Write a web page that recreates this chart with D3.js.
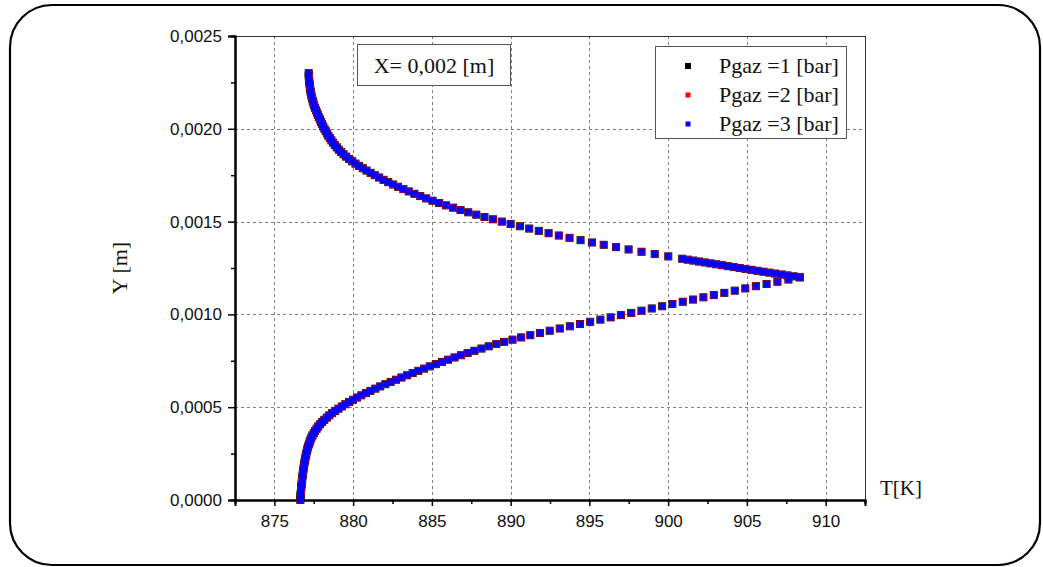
<!DOCTYPE html>
<html><head><meta charset="utf-8">
<script src="https://cdn.jsdelivr.net/npm/d3@7"></script>
<style>html,body{margin:0;padding:0;background:#fff;} svg{display:block;}</style>
</head><body><svg id="chart" width="1043" height="567"></svg>
<script>
// ---- tick values / labels ----
const xTicks = [875, 880, 885, 890, 895, 900, 905, 910];
const xMinorTicks = [872.5, 877.5, 882.5, 887.5, 892.5, 897.5, 902.5, 907.5, 912.5];
const yTicks = [0, 0.0005, 0.0010, 0.0015, 0.0020, 0.0025];
const yMinorTicks = [0.00025, 0.00075, 0.00125, 0.00175, 0.00225];
const xTitle = "T[K]";
const yTitle = "Y [m]";
const annotation = "X= 0,002 [m]";
const seriesNames = ["Pgaz =1 [bar]", "Pgaz =2 [bar]", "Pgaz =3 [bar]"];
const seriesColors = ["#000000", "#ff0000", "#0000ff"];

// ---- data: lower branch (Y from 0 to the tip) ----
const yLower = [0e-6,12e-6,24e-6,36e-6,48e-6,60e-6,72e-6,84e-6,96e-6,108e-6,
120e-6,132e-6,144e-6,156e-6,168e-6,180e-6,192e-6,204e-6,216e-6,228e-6,
240e-6,252e-6,264e-6,276e-6,288e-6,300e-6,312e-6,324e-6,336e-6,348e-6,
360e-6,372e-6,384e-6,396e-6,408e-6,420e-6,432e-6,444e-6,456e-6,468e-6,
480e-6,492e-6,504e-6,516e-6,528e-6,540e-6,552e-6,564e-6,576e-6,588e-6,
600e-6,612e-6,624e-6,636e-6,648e-6,660e-6,672e-6,684e-6,696e-6,708e-6,
720e-6,732e-6,744e-6,756e-6,768e-6,780e-6,792e-6,804e-6,816e-6,828e-6,
840e-6,852e-6,864e-6,876e-6,888e-6,900e-6,912e-6,924e-6,936e-6,948e-6,
960e-6,972e-6,984e-6,996e-6,1008e-6,1020e-6,1032e-6,1044e-6,1056e-6,1068e-6,
1080e-6,1092e-6,1104e-6,1116e-6,1128e-6,1140e-6,1152e-6,1164e-6,1176e-6,1188e-6,
1200e-6];
const tLower = [876.65,876.66,876.66,876.67,876.69,876.70,876.71,876.73,876.74,876.76,
876.77,876.79,876.81,876.83,876.85,876.87,876.89,876.92,876.94,876.97,
877.00,877.03,877.07,877.10,877.14,877.19,877.24,877.29,877.35,877.42,
877.50,877.58,877.68,877.78,877.90,878.03,878.17,878.33,878.49,878.67,
878.86,879.07,879.28,879.51,879.74,879.99,880.25,880.52,880.81,881.10,
881.41,881.72,882.05,882.38,882.72,883.07,883.43,883.78,884.14,884.50,
884.87,885.25,885.64,886.03,886.44,886.85,887.27,887.70,888.15,888.61,
889.09,889.59,890.12,890.67,891.25,891.86,892.48,893.12,893.76,894.40,
895.05,895.70,896.35,897.00,897.66,898.31,898.96,899.62,900.27,900.93,
901.58,902.24,902.90,903.57,904.23,904.90,905.57,906.25,906.94,907.64,
908.36];

// ---- data: upper branch (from the tip up to the top) ----
const yUpper = [1200e-6,1205e-6,1210e-6,1215e-6,1220e-6,1225e-6,1230e-6,1235e-6,1240e-6,1245e-6,
1250e-6,1255e-6,1260e-6,1265e-6,1270e-6,1275e-6,1280e-6,1285e-6,1290e-6,1295e-6,
1300e-6,1312.5e-6,1325e-6,1337.5e-6,1350e-6,1362.5e-6,1375e-6,1387.5e-6,
1400e-6,1412.5e-6,1425e-6,1437.5e-6,1450e-6,1462.5e-6,1475e-6,1487.5e-6,
1500e-6,1512.5e-6,1525e-6,1537.5e-6,1550e-6,1562.5e-6,1575e-6,1587.5e-6,
1600e-6,1612.5e-6,1625e-6,1637.5e-6,1650e-6,1662.5e-6,1675e-6,1687.5e-6,
1700e-6,1712.5e-6,1725e-6,1737.5e-6,1750e-6,1762.5e-6,1775e-6,1787.5e-6,
1800e-6,1812.5e-6,1825e-6,1837.5e-6,1850e-6,1862.5e-6,1875e-6,1887.5e-6,
1900e-6,1912.5e-6,1925e-6,1937.5e-6,1950e-6,1962.5e-6,1975e-6,1987.5e-6,
2000e-6,2012.5e-6,2025e-6,2037.5e-6,2050e-6,2062.5e-6,2075e-6,2087.5e-6,
2100e-6,2112.5e-6,2125e-6,2137.5e-6,2150e-6,2162.5e-6,2175e-6,2187.5e-6,
2200e-6,2212.5e-6,2225e-6,2237.5e-6,2250e-6,2262.5e-6,2275e-6,2287.5e-6,
2300e-6];
const tUpper = [908.36,907.97,907.58,907.20,906.81,906.43,906.05,905.67,905.29,904.91,
904.54,904.16,903.79,903.42,903.05,902.69,902.32,901.96,901.60,901.24,
900.89,900.01,899.15,898.31,897.49,896.69,895.91,895.16,
894.44,893.74,893.06,892.41,891.79,891.18,890.59,890.00,
889.44,888.88,888.34,887.82,887.31,886.82,886.35,885.89,
885.46,885.04,884.64,884.26,883.89,883.53,883.19,882.85,
882.54,882.23,881.93,881.65,881.37,881.11,880.85,880.61,
880.37,880.15,879.94,879.74,879.56,879.39,879.24,879.09,
878.96,878.84,878.73,878.62,878.52,878.43,878.34,878.26,
878.18,878.10,878.03,877.96,877.89,877.82,877.76,877.70,
877.64,877.58,877.53,877.48,877.44,877.40,877.36,877.33,
877.30,877.28,877.26,877.24,877.22,877.21,877.19,877.18,
877.18];

// The three pressure series coincide on the picture: same readings for each.
const seriesY = [yLower.concat(yUpper), yLower.concat(yUpper), yLower.concat(yUpper)];
const seriesT = [tLower.concat(tUpper), tLower.concat(tUpper), tLower.concat(tUpper)];

// ---- drawing ----
const svg = d3.select("#chart");
const W = 1043, H = 567;
const plot = {left: 235, right: 865, top: 36, bottom: 500};
const x = d3.scaleLinear().domain([872.5, 912.5]).range([plot.left, plot.right]);
const y = d3.scaleLinear().domain([0, 0.0025]).range([plot.bottom, plot.top]);

svg.append("rect").attr("width", W).attr("height", H).attr("fill", "#fff");

// outer rounded frame
svg.append("rect").attr("x", 10).attr("y", 5).attr("width", 1030).attr("height", 560)
  .attr("rx", 42).attr("ry", 42).attr("fill", "none").attr("stroke", "#000").attr("stroke-width", 2.2);

// grid
const grid = svg.append("g").attr("stroke", "#808080").attr("stroke-width", 1).attr("stroke-dasharray", "3,3");
xTicks.forEach(v => grid.append("line").attr("x1", Math.round(x(v)) + 0.5).attr("x2", Math.round(x(v)) + 0.5)
  .attr("y1", plot.top).attr("y2", plot.bottom));
yTicks.filter(v => v > 0 && v < 0.0025).forEach(v => grid.append("line").attr("y1", Math.round(y(v)) + 0.5)
  .attr("y2", Math.round(y(v)) + 0.5).attr("x1", plot.left).attr("x2", plot.right));

// top & right border
svg.append("line").attr("x1", plot.left).attr("x2", plot.right).attr("y1", plot.top + 0.5).attr("y2", plot.top + 0.5)
  .attr("stroke", "#333").attr("stroke-width", 1);
svg.append("line").attr("x1", plot.right + 0.5).attr("x2", plot.right + 0.5).attr("y1", plot.top).attr("y2", plot.bottom)
  .attr("stroke", "#333").attr("stroke-width", 1);

// axes
const fmtY = v => d3.format(".4f")(v).replace(".", ",");
const axisFont = "'Liberation Sans', Arial, sans-serif";
const gx = svg.append("g").attr("transform", `translate(0,${plot.bottom})`)
  .call(d3.axisBottom(x).tickValues(xTicks).tickSize(6).tickPadding(9).tickFormat(d3.format("d")));
const gxm = svg.append("g").attr("transform", `translate(0,${plot.bottom})`)
  .call(d3.axisBottom(x).tickValues(xMinorTicks).tickSize(4).tickFormat(""));
const gy = svg.append("g").attr("transform", `translate(${plot.left},0)`)
  .call(d3.axisLeft(y).tickValues(yTicks).tickSize(7).tickPadding(6).tickFormat(fmtY));
const gym = svg.append("g").attr("transform", `translate(${plot.left},0)`)
  .call(d3.axisLeft(y).tickValues(yMinorTicks).tickSize(4).tickFormat(""));
[gx, gxm, gy, gym].forEach(g => {
  g.select(".domain").attr("stroke", "#000").attr("stroke-width", 2);
  g.selectAll(".tick line").attr("stroke", "#000").attr("stroke-width", 1.5);
  g.selectAll("text").attr("font-family", axisFont).attr("font-size", 17).attr("fill", "#111");
});

// markers: black, then red, then blue on top
const markerSize = [8, 7.2, 6.4];
seriesNames.forEach((name, i) => {
  const pts = seriesT[i].map((t, j) => [t, seriesY[i][j]]);
  svg.append("g").selectAll("rect").data(pts).join("rect")
    .attr("x", d => x(d[0]) - markerSize[i] / 2)
    .attr("y", d => y(d[1]) - markerSize[i] / 2)
    .attr("width", markerSize[i]).attr("height", markerSize[i])
    .attr("fill", seriesColors[i]);
});

// axis titles
const serif = "'Liberation Serif', 'Times New Roman', serif";
svg.append("text").attr("x", 880).attr("y", 495).attr("font-family", serif).attr("font-size", 21)
  .attr("fill", "#111").text(xTitle);
svg.append("text").attr("transform", "translate(127,268) rotate(-90)").attr("text-anchor", "middle")
  .attr("font-family", serif).attr("font-size", 22).attr("fill", "#111").text(yTitle);

// annotation box
svg.append("rect").attr("x", 357.5).attr("y", 44.5).attr("width", 153).attr("height", 41)
  .attr("fill", "#fff").attr("stroke", "#555").attr("stroke-width", 1);
svg.append("text").attr("x", 434).attr("y", 73).attr("text-anchor", "middle").attr("font-family", serif)
  .attr("font-size", 22).attr("fill", "#111").text(annotation);

// legend
const lg = svg.append("g");
lg.append("rect").attr("x", 655.5).attr("y", 46.5).attr("width", 191).attr("height", 92)
  .attr("fill", "#fff").attr("stroke", "#555").attr("stroke-width", 1);
const legendMarker = [6, 5, 5];
seriesNames.forEach((name, i) => {
  const cy = 66 + i * 29;
  lg.append("rect").attr("x", 688 - legendMarker[i] / 2).attr("y", cy - legendMarker[i] / 2)
    .attr("width", legendMarker[i]).attr("height", legendMarker[i]).attr("fill", seriesColors[i]);
  lg.append("text").attr("x", 719).attr("y", cy + 7).attr("font-family", serif).attr("font-size", 22)
    .attr("fill", "#111").text(name);
});
</script></body></html>
